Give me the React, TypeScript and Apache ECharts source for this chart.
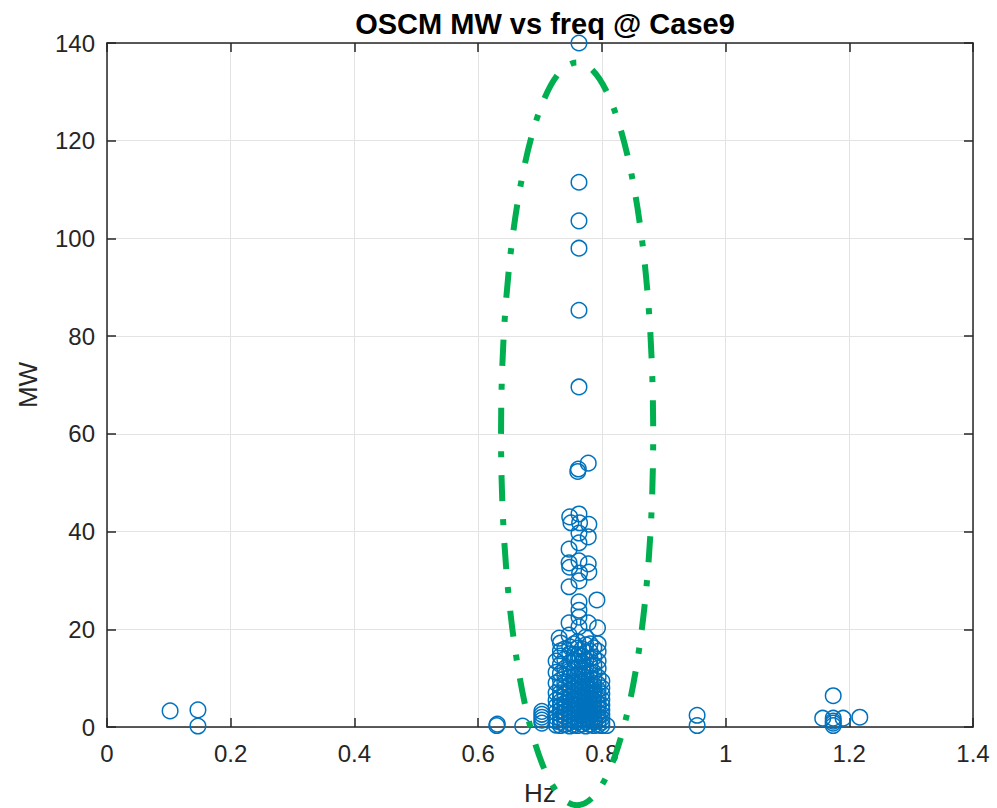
import React, { useEffect, useRef } from "react";
import * as echarts from "echarts";

const titleText = "OSCM MW vs freq @ Case9";
const xTicks = { min: 0, max: 1.4, interval: 0.2 };
const yTicks = { min: 0, max: 140, interval: 20 };

// [Hz, MW] isolated points
const outlierPoints: number[][] = [
  [0.102, 3.3], [0.147, 3.5], [0.147, 0.2],
  [0.63, 0.3], [0.631, 0.6], [0.672, 0.2],
  [0.703, 0.8], [0.703, 1.4], [0.703, 2.0], [0.703, 2.6], [0.703, 3.2],
  [0.808, 0.3],
  [0.954, 2.4], [0.954, 0.3],
  [1.174, 6.4], [1.157, 1.8], [1.174, 1.8], [1.19, 1.8], [1.217, 2.0],
  [1.174, 0.3], [1.174, 0.8], [1.174, 1.2],
];

// upper part of the main column
const upperPoints: number[][] = [
  [0.763, 140], [0.763, 111.5], [0.763, 103.6], [0.763, 98.0], [0.763, 85.3], [0.763, 69.6],
  [0.761, 52.3], [0.762, 52.8], [0.778, 54.0],
  [0.748, 43.0], [0.763, 43.6], [0.75, 41.8], [0.764, 41.8], [0.779, 41.5], [0.763, 39.7],
  [0.778, 38.9], [0.747, 36.4], [0.763, 37.7], [0.747, 33.6], [0.763, 34.0], [0.778, 33.4],
  [0.748, 32.7], [0.764, 31.5], [0.779, 31.7], [0.747, 28.7], [0.763, 29.9], [0.792, 26.0],
  [0.763, 25.6], [0.763, 23.9], [0.763, 22.5], [0.747, 21.3], [0.763, 20.5], [0.778, 21.3],
  [0.793, 20.3], [0.731, 18.2], [0.747, 18.8],
];

// dense lower cluster, by frequency column
const clusterFreqs = [0.726, 0.733, 0.74, 0.748, 0.755, 0.761, 0.768, 0.774, 0.781, 0.787, 0.794, 0.8];
const clusterMW: number[][] = [
  [0.4, 1.2, 2.0, 3.0, 4.2, 5.5, 7.0, 9.0, 11.2, 13.5],
  [0.3, 1.0, 1.8, 2.6, 3.5, 4.4, 5.2, 6.1, 7.0, 8.3, 9.6, 11.0, 12.8, 14.5, 15.6, 17.2],
  [0.5, 1.4, 2.2, 3.1, 4.0, 4.9, 5.8, 6.9, 8.0, 9.2, 10.5, 12.0, 13.9, 16.0],
  [0.2, 0.9, 1.7, 2.5, 3.4, 4.3, 5.2, 6.3, 7.5, 8.7, 10.1, 11.5, 13.2, 15.0, 16.4],
  [0.4, 1.2, 2.0, 2.9, 3.8, 4.7, 5.6, 6.6, 7.8, 9.0, 10.3, 11.8, 13.6, 14.9, 17.0],
  [0.3, 1.1, 1.9, 2.7, 3.6, 4.5, 5.5, 6.4, 7.4, 8.5, 9.7, 10.9, 12.2, 13.5, 14.8, 16.1, 17.5],
  [0.6, 1.5, 2.4, 3.3, 4.2, 5.1, 6.0, 7.1, 8.2, 9.4, 10.6, 11.9, 13.3, 14.6, 16.0],
  [0.2, 1.0, 1.8, 2.6, 3.5, 4.4, 5.3, 6.2, 7.2, 8.4, 9.6, 11.0, 12.4, 13.8, 15.3, 16.8, 18.4],
  [0.5, 1.3, 2.1, 3.0, 3.9, 4.8, 5.7, 6.7, 7.7, 8.8, 10.0, 11.3, 12.6, 14.0, 15.5, 17.0],
  [0.3, 1.1, 1.9, 2.8, 3.7, 4.6, 5.5, 6.5, 7.6, 8.6, 9.8, 11.2, 12.7, 14.3, 16.2],
  [0.4, 1.2, 2.0, 2.9, 3.8, 4.7, 5.6, 6.6, 7.6, 8.8, 10.2, 12.0, 13.5, 15.5, 17.0],
  [0.3, 1.0, 1.8, 2.6, 3.5, 4.5, 5.6, 6.8, 8.0, 9.4],
];

// annotation ellipse: [centre Hz, centre MW, semi-axis Hz, semi-axis MW]
const ellipseSpec: number[][] = [[0.76, 60, 0.123, 76]];

const textColor = "#262626";
const fontFamily = "'Liberation Sans', Arial, Helvetica, sans-serif";

export default function App() {
  const ref = useRef<HTMLDivElement>(null);
  useEffect(() => {
    if (!ref.current) return;
    const chart = echarts.init(ref.current, null, { renderer: "svg" });

    const clusterPoints: number[][] = [];
    clusterFreqs.forEach((f, i) => {
      clusterMW[i].forEach((v) => clusterPoints.push([f, v]));
    });
    const allPoints = [...outlierPoints, ...upperPoints, ...clusterPoints];

    const axisLine = { show: true, onZero: false, lineStyle: { color: textColor, width: 1.5 } };
    const axisTick = { show: true, inside: true, length: 9, lineStyle: { color: textColor, width: 1.5 } };

    chart.setOption({
      animation: false,
      backgroundColor: "#ffffff",
      title: {
        text: titleText,
        left: 540,
        top: 4,
        textAlign: "center",
        textStyle: { fontFamily, fontSize: 29, fontWeight: "bold", color: "#000000" },
      },
      grid: { left: 107, right: 24, top: 43, bottom: 81, containLabel: false, outerBoundsMode: "none" },
      xAxis: [
        {
          type: "value",
          position: "bottom",
          min: xTicks.min,
          max: xTicks.max,
          interval: xTicks.interval,
          name: "Hz",
          nameLocation: "middle",
          nameGap: 53,
          nameTextStyle: { fontFamily, fontSize: 26, color: textColor },
          axisLine,
          axisTick,
          axisLabel: { fontFamily, fontSize: 24, color: textColor, margin: 14 },
          splitLine: { show: true, lineStyle: { color: "#e3e3e3", width: 1 } },
        },
        {
          type: "value",
          position: "top",
          min: xTicks.min,
          max: xTicks.max,
          interval: xTicks.interval,
          axisLine,
          axisTick,
          axisLabel: { show: false },
          splitLine: { show: false },
        },
      ],
      yAxis: [
        {
          type: "value",
          position: "left",
          min: yTicks.min,
          max: yTicks.max,
          interval: yTicks.interval,
          name: "MW",
          nameLocation: "middle",
          nameGap: 66,
          nameTextStyle: { fontFamily, fontSize: 26, color: textColor },
          axisLine,
          axisTick,
          axisLabel: { fontFamily, fontSize: 24, color: textColor, margin: 12 },
          splitLine: { show: true, lineStyle: { color: "#e3e3e3", width: 1 } },
        },
        {
          type: "value",
          position: "right",
          min: yTicks.min,
          max: yTicks.max,
          interval: yTicks.interval,
          axisLine,
          axisTick,
          axisLabel: { show: false },
          splitLine: { show: false },
        },
      ],
      series: [
        {
          type: "scatter",
          xAxisIndex: 0,
          yAxisIndex: 0,
          symbol: "circle",
          symbolSize: 15.5,
          itemStyle: { color: "rgba(0,0,0,0)", borderColor: "#0072BD", borderWidth: 1.5, opacity: 1 },
          data: allPoints,
          clip: false,
          z: 3,
        },
        {
          type: "custom",
          xAxisIndex: 0,
          yAxisIndex: 0,
          clip: false,
          silent: true,
          z: 5,
          encode: { x: 0, y: 1 },
          data: ellipseSpec,
          renderItem: (params: any, api: any) => {
            const c = api.coord([api.value(0), api.value(1)]);
            const s = api.size([api.value(2), api.value(3)]);
            return {
              type: "ellipse",
              shape: { cx: c[0], cy: c[1], rx: s[0], ry: s[1] },
              style: {
                fill: "none",
                stroke: "#00B050",
                lineWidth: 6,
                lineDash: [26, 18, 6, 18],
              },
            };
          },
        },
      ],
    });
    return () => chart.dispose();
  }, []);

  return (
    <div
      ref={ref}
      style={{ position: "fixed", left: 0, top: 0, width: 997, height: 808, background: "#fff" }}
    />
  );
}
